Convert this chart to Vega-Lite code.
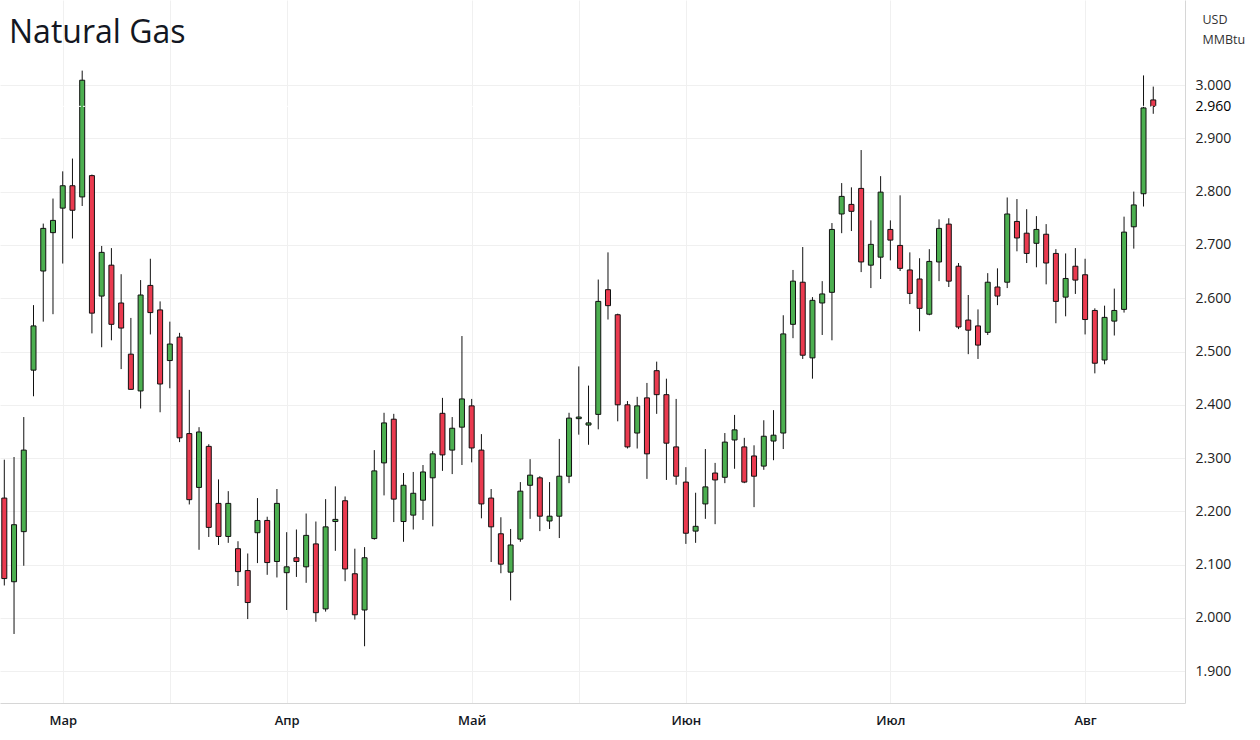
{
  "$schema": "https://vega.github.io/schema/vega-lite/v6.json",
  "width": 1185,
  "height": 703,
  "autosize": {"type": "none"},
  "padding": {"left": 0, "top": 0, "right": 75, "bottom": 37},
  "background": "white",
  "config": {"view": {"stroke": null}, "font": "Open Sans"},
  "title": {"text": "Natural Gas", "anchor": "start", "frame": "group", "orient": "top", "offset": -42, "dy": 33, "baseline": "alphabetic", "dx": 9, "fontSize": 32, "fontWeight": "normal", "font": "Open Sans", "color": "#131722"},
  "data": {"values": [
    {"d":"2023-02-21","i":0,"o":2.225,"h":2.297,"l":2.061,"c":2.074},
    {"d":"2023-02-22","i":1,"o":2.068,"h":2.302,"l":1.970,"c":2.175},
    {"d":"2023-02-23","i":2,"o":2.162,"h":2.377,"l":2.098,"c":2.315},
    {"d":"2023-02-24","i":3,"o":2.465,"h":2.587,"l":2.416,"c":2.548},
    {"d":"2023-02-27","i":4,"o":2.651,"h":2.740,"l":2.556,"c":2.731},
    {"d":"2023-02-28","i":5,"o":2.723,"h":2.787,"l":2.570,"c":2.746},
    {"d":"2023-03-01","i":6,"o":2.769,"h":2.838,"l":2.665,"c":2.811},
    {"d":"2023-03-02","i":7,"o":2.811,"h":2.862,"l":2.712,"c":2.765},
    {"d":"2023-03-03","i":8,"o":2.790,"h":3.027,"l":2.773,"c":3.009},
    {"d":"2023-03-06","i":9,"o":2.830,"h":2.832,"l":2.534,"c":2.572},
    {"d":"2023-03-07","i":10,"o":2.604,"h":2.698,"l":2.508,"c":2.686},
    {"d":"2023-03-08","i":11,"o":2.662,"h":2.694,"l":2.521,"c":2.551},
    {"d":"2023-03-09","i":12,"o":2.591,"h":2.645,"l":2.467,"c":2.544},
    {"d":"2023-03-10","i":13,"o":2.495,"h":2.563,"l":2.428,"c":2.429},
    {"d":"2023-03-13","i":14,"o":2.426,"h":2.634,"l":2.393,"c":2.606},
    {"d":"2023-03-14","i":15,"o":2.624,"h":2.674,"l":2.532,"c":2.573},
    {"d":"2023-03-15","i":16,"o":2.578,"h":2.594,"l":2.386,"c":2.439},
    {"d":"2023-03-16","i":17,"o":2.483,"h":2.556,"l":2.431,"c":2.514},
    {"d":"2023-03-17","i":18,"o":2.527,"h":2.535,"l":2.330,"c":2.338},
    {"d":"2023-03-20","i":19,"o":2.346,"h":2.428,"l":2.213,"c":2.222},
    {"d":"2023-03-21","i":20,"o":2.245,"h":2.358,"l":2.128,"c":2.349},
    {"d":"2023-03-22","i":21,"o":2.322,"h":2.326,"l":2.152,"c":2.170},
    {"d":"2023-03-23","i":22,"o":2.215,"h":2.260,"l":2.137,"c":2.153},
    {"d":"2023-03-24","i":23,"o":2.153,"h":2.238,"l":2.141,"c":2.215},
    {"d":"2023-03-27","i":24,"o":2.130,"h":2.144,"l":2.060,"c":2.087},
    {"d":"2023-03-28","i":25,"o":2.089,"h":2.121,"l":1.998,"c":2.029},
    {"d":"2023-03-29","i":26,"o":2.160,"h":2.225,"l":2.103,"c":2.183},
    {"d":"2023-03-30","i":27,"o":2.183,"h":2.190,"l":2.081,"c":2.104},
    {"d":"2023-03-31","i":28,"o":2.106,"h":2.242,"l":2.076,"c":2.215},
    {"d":"2023-04-03","i":29,"o":2.085,"h":2.161,"l":2.015,"c":2.096},
    {"d":"2023-04-04","i":30,"o":2.113,"h":2.166,"l":2.077,"c":2.106},
    {"d":"2023-04-05","i":31,"o":2.096,"h":2.196,"l":2.066,"c":2.155},
    {"d":"2023-04-06","i":32,"o":2.139,"h":2.181,"l":1.993,"c":2.010},
    {"d":"2023-04-10","i":33,"o":2.017,"h":2.223,"l":2.012,"c":2.171},
    {"d":"2023-04-11","i":34,"o":2.181,"h":2.247,"l":2.126,"c":2.185},
    {"d":"2023-04-12","i":35,"o":2.220,"h":2.228,"l":2.069,"c":2.092},
    {"d":"2023-04-13","i":36,"o":2.083,"h":2.130,"l":1.997,"c":2.006},
    {"d":"2023-04-14","i":37,"o":2.015,"h":2.133,"l":1.947,"c":2.113},
    {"d":"2023-04-17","i":38,"o":2.149,"h":2.315,"l":2.147,"c":2.276},
    {"d":"2023-04-18","i":39,"o":2.291,"h":2.385,"l":2.230,"c":2.366},
    {"d":"2023-04-19","i":40,"o":2.373,"h":2.383,"l":2.180,"c":2.223},
    {"d":"2023-04-20","i":41,"o":2.181,"h":2.272,"l":2.143,"c":2.249},
    {"d":"2023-04-21","i":42,"o":2.193,"h":2.274,"l":2.166,"c":2.234},
    {"d":"2023-04-24","i":43,"o":2.221,"h":2.287,"l":2.184,"c":2.274},
    {"d":"2023-04-25","i":44,"o":2.263,"h":2.313,"l":2.172,"c":2.308},
    {"d":"2023-04-26","i":45,"o":2.384,"h":2.413,"l":2.276,"c":2.306},
    {"d":"2023-04-27","i":46,"o":2.315,"h":2.377,"l":2.270,"c":2.356},
    {"d":"2023-04-28","i":47,"o":2.358,"h":2.529,"l":2.287,"c":2.411},
    {"d":"2023-05-01","i":48,"o":2.398,"h":2.411,"l":2.292,"c":2.319},
    {"d":"2023-05-02","i":49,"o":2.315,"h":2.345,"l":2.187,"c":2.214},
    {"d":"2023-05-03","i":50,"o":2.225,"h":2.242,"l":2.105,"c":2.171},
    {"d":"2023-05-04","i":51,"o":2.158,"h":2.189,"l":2.084,"c":2.101},
    {"d":"2023-05-05","i":52,"o":2.086,"h":2.167,"l":2.033,"c":2.137},
    {"d":"2023-05-08","i":53,"o":2.148,"h":2.255,"l":2.143,"c":2.238},
    {"d":"2023-05-09","i":54,"o":2.249,"h":2.298,"l":2.186,"c":2.268},
    {"d":"2023-05-10","i":55,"o":2.263,"h":2.266,"l":2.163,"c":2.191},
    {"d":"2023-05-11","i":56,"o":2.182,"h":2.255,"l":2.167,"c":2.191},
    {"d":"2023-05-12","i":57,"o":2.191,"h":2.336,"l":2.150,"c":2.266},
    {"d":"2023-05-15","i":58,"o":2.266,"h":2.385,"l":2.253,"c":2.375},
    {"d":"2023-05-16","i":59,"o":2.374,"h":2.472,"l":2.344,"c":2.377},
    {"d":"2023-05-17","i":60,"o":2.362,"h":2.436,"l":2.325,"c":2.366},
    {"d":"2023-05-18","i":61,"o":2.382,"h":2.635,"l":2.354,"c":2.594},
    {"d":"2023-05-19","i":62,"o":2.616,"h":2.686,"l":2.560,"c":2.586},
    {"d":"2023-05-22","i":63,"o":2.569,"h":2.571,"l":2.369,"c":2.400},
    {"d":"2023-05-23","i":64,"o":2.400,"h":2.407,"l":2.318,"c":2.321},
    {"d":"2023-05-24","i":65,"o":2.347,"h":2.415,"l":2.318,"c":2.398},
    {"d":"2023-05-25","i":66,"o":2.413,"h":2.441,"l":2.261,"c":2.308},
    {"d":"2023-05-26","i":67,"o":2.464,"h":2.481,"l":2.383,"c":2.419},
    {"d":"2023-05-30","i":68,"o":2.419,"h":2.449,"l":2.259,"c":2.328},
    {"d":"2023-05-31","i":69,"o":2.321,"h":2.411,"l":2.250,"c":2.266},
    {"d":"2023-06-01","i":70,"o":2.255,"h":2.283,"l":2.139,"c":2.159},
    {"d":"2023-06-02","i":71,"o":2.163,"h":2.235,"l":2.141,"c":2.172},
    {"d":"2023-06-05","i":72,"o":2.214,"h":2.317,"l":2.186,"c":2.246},
    {"d":"2023-06-06","i":73,"o":2.272,"h":2.291,"l":2.176,"c":2.259},
    {"d":"2023-06-07","i":74,"o":2.264,"h":2.347,"l":2.253,"c":2.330},
    {"d":"2023-06-08","i":75,"o":2.334,"h":2.381,"l":2.280,"c":2.353},
    {"d":"2023-06-09","i":76,"o":2.321,"h":2.338,"l":2.253,"c":2.255},
    {"d":"2023-06-12","i":77,"o":2.304,"h":2.324,"l":2.208,"c":2.266},
    {"d":"2023-06-13","i":78,"o":2.285,"h":2.371,"l":2.278,"c":2.341},
    {"d":"2023-06-14","i":79,"o":2.332,"h":2.390,"l":2.296,"c":2.343},
    {"d":"2023-06-15","i":80,"o":2.347,"h":2.568,"l":2.317,"c":2.533},
    {"d":"2023-06-16","i":81,"o":2.551,"h":2.653,"l":2.525,"c":2.632},
    {"d":"2023-06-20","i":82,"o":2.630,"h":2.696,"l":2.486,"c":2.493},
    {"d":"2023-06-21","i":83,"o":2.488,"h":2.602,"l":2.449,"c":2.596},
    {"d":"2023-06-22","i":84,"o":2.591,"h":2.632,"l":2.531,"c":2.608},
    {"d":"2023-06-23","i":85,"o":2.611,"h":2.741,"l":2.521,"c":2.729},
    {"d":"2023-06-26","i":86,"o":2.758,"h":2.816,"l":2.722,"c":2.791},
    {"d":"2023-06-27","i":87,"o":2.776,"h":2.808,"l":2.726,"c":2.763},
    {"d":"2023-06-28","i":88,"o":2.806,"h":2.878,"l":2.649,"c":2.668},
    {"d":"2023-06-29","i":89,"o":2.662,"h":2.746,"l":2.619,"c":2.701},
    {"d":"2023-06-30","i":90,"o":2.677,"h":2.829,"l":2.636,"c":2.799},
    {"d":"2023-07-03","i":91,"o":2.729,"h":2.746,"l":2.671,"c":2.709},
    {"d":"2023-07-05","i":92,"o":2.699,"h":2.793,"l":2.651,"c":2.656},
    {"d":"2023-07-06","i":93,"o":2.653,"h":2.686,"l":2.589,"c":2.609},
    {"d":"2023-07-07","i":94,"o":2.636,"h":2.675,"l":2.538,"c":2.581},
    {"d":"2023-07-10","i":95,"o":2.570,"h":2.692,"l":2.568,"c":2.669},
    {"d":"2023-07-11","i":96,"o":2.668,"h":2.748,"l":2.632,"c":2.731},
    {"d":"2023-07-12","i":97,"o":2.739,"h":2.750,"l":2.621,"c":2.632},
    {"d":"2023-07-13","i":98,"o":2.660,"h":2.666,"l":2.542,"c":2.546},
    {"d":"2023-07-14","i":99,"o":2.559,"h":2.606,"l":2.495,"c":2.540},
    {"d":"2023-07-17","i":100,"o":2.548,"h":2.579,"l":2.486,"c":2.512},
    {"d":"2023-07-18","i":101,"o":2.536,"h":2.647,"l":2.531,"c":2.630},
    {"d":"2023-07-19","i":102,"o":2.621,"h":2.656,"l":2.587,"c":2.604},
    {"d":"2023-07-20","i":103,"o":2.630,"h":2.789,"l":2.619,"c":2.758},
    {"d":"2023-07-21","i":104,"o":2.744,"h":2.786,"l":2.688,"c":2.713},
    {"d":"2023-07-24","i":105,"o":2.722,"h":2.767,"l":2.666,"c":2.684},
    {"d":"2023-07-25","i":106,"o":2.703,"h":2.754,"l":2.658,"c":2.729},
    {"d":"2023-07-26","i":107,"o":2.720,"h":2.739,"l":2.626,"c":2.666},
    {"d":"2023-07-27","i":108,"o":2.684,"h":2.692,"l":2.553,"c":2.594},
    {"d":"2023-07-28","i":109,"o":2.602,"h":2.684,"l":2.566,"c":2.637},
    {"d":"2023-07-31","i":110,"o":2.660,"h":2.694,"l":2.608,"c":2.634},
    {"d":"2023-08-01","i":111,"o":2.644,"h":2.674,"l":2.532,"c":2.560},
    {"d":"2023-08-02","i":112,"o":2.577,"h":2.581,"l":2.459,"c":2.478},
    {"d":"2023-08-03","i":113,"o":2.484,"h":2.586,"l":2.476,"c":2.564},
    {"d":"2023-08-04","i":114,"o":2.557,"h":2.618,"l":2.530,"c":2.577},
    {"d":"2023-08-07","i":115,"o":2.579,"h":2.753,"l":2.573,"c":2.724},
    {"d":"2023-08-08","i":116,"o":2.734,"h":2.800,"l":2.693,"c":2.775},
    {"d":"2023-08-09","i":117,"o":2.796,"h":3.018,"l":2.772,"c":2.957},
    {"d":"2023-08-10","i":118,"o":2.972,"h":2.997,"l":2.946,"c":2.960}
  ]},
  "layer": [
    {
      "mark": {"type": "rule", "color": "#111111", "strokeWidth": 1},
      "encoding": {
        "x": {"field": "i", "type": "quantitative",
          "scale": {"domain": [-0.442, 121.26], "nice": false, "zero": false, "padding": 0},
          "axis": {"orient": "bottom", "title": null, "values": [6, 17, 29, 48, 59, 70, 91, 111],
            "labelExpr": "datum.value == 6 ? 'Мар' : datum.value == 29 ? 'Апр' : datum.value == 48 ? 'Май' : datum.value == 70 ? 'Июн' : datum.value == 91 ? 'Июл' : datum.value == 111 ? 'Авг' : ''",
            "ticks": false, "domainColor": "#d6d6d6", "domainWidth": 1, "grid": true, "gridColor": "#f0f0f0", "gridWidth": 1,
            "labelPadding": 11, "labelFontSize": 13, "labelFontWeight": 600, "labelColor": "#131722", "labelFont": "Open Sans", "labelOverlap": false}},
        "y": {"field": "l", "type": "quantitative",
          "scale": {"domain": [1.8405, 3.1595], "nice": false, "zero": false},
          "axis": {"orient": "right", "values": [1.9, 2.0, 2.1, 2.2, 2.3, 2.4, 2.5, 2.6, 2.7, 2.8, 2.9, 3.0, 2.96], "format": ".3f",
            "ticks": false, "domainColor": "#d6d6d6", "domainWidth": 1, "grid": true,
            "gridColor": {"condition": {"test": "datum.value == 2.96", "value": "rgba(0,0,0,0)"}, "value": "#f0f0f0"},
            "labelColor": {"condition": {"test": "datum.value == 2.96", "value": "#000000"}, "value": "#222222"},
            "labelPadding": 10, "labelFontSize": 14, "labelFont": "Open Sans", "labelOverlap": false,
            "title": ["USD", "MMBtu"], "titleAngle": 0, "titleAlign": "left", "titleBaseline": "top", "titleX": 17, "titleY": 13,
            "titleFontSize": 12.5, "titleFontWeight": "normal", "titleColor": "#333333", "titleFont": "Open Sans", "titleLineHeight": 20}},
        "y2": {"field": "h"}
      }
    },
    {
      "mark": {"type": "bar", "size": 5, "stroke": "#111111", "strokeWidth": 1},
      "encoding": {
        "x": {"field": "i", "type": "quantitative"},
        "y": {"field": "o", "type": "quantitative"},
        "y2": {"field": "c"},
        "fill": {"condition": {"test": "datum.c >= datum.o", "value": "#4caf50"}, "value": "#ea3a4f"}
      }
    },
    {
      "data": {"values": [{"p": 2.96}]},
      "mark": {"type": "rule", "color": "#ffffff", "strokeDash": [2, 2], "strokeWidth": 1},
      "encoding": {"y": {"field": "p", "type": "quantitative"}}
    }
  ]
}
